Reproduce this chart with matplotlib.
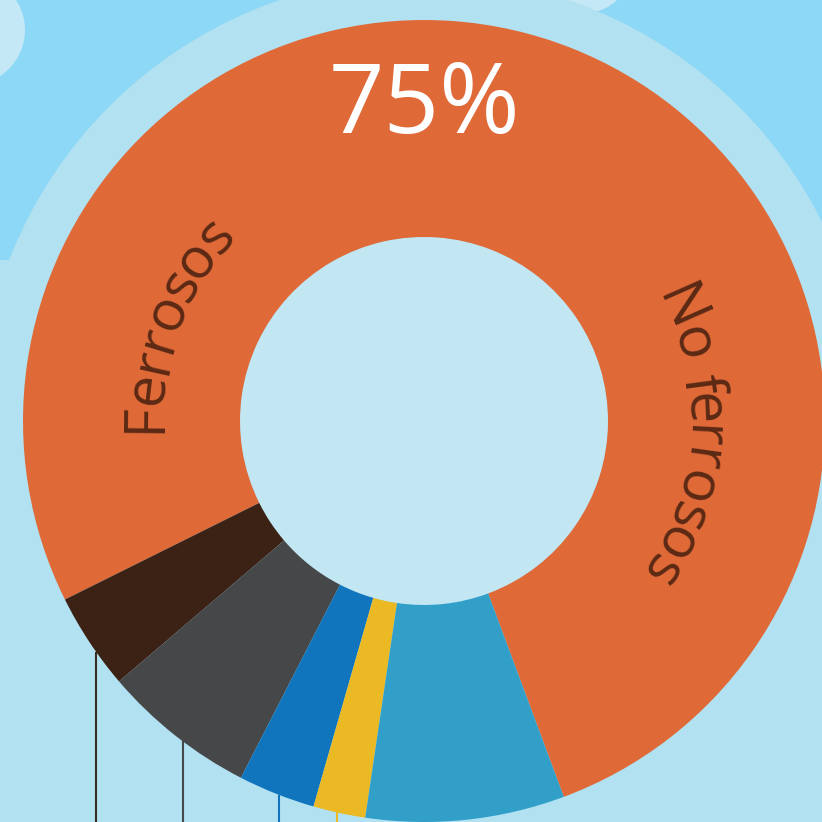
import numpy as np
import matplotlib
matplotlib.use('Agg')
import matplotlib.pyplot as plt
from matplotlib.patches import Circle, Rectangle
from matplotlib.font_manager import FontProperties, findfont, get_font

# datos del anillo (porcentajes estimados, en orden antihorario)
labels = ['Metales', 'Marrón', 'Gris', 'Azul', 'Amarillo', 'Celeste']
values = [76.6, 3.9, 6.2, 3.1, 2.1, 8.0]
colors = ['#DF6A38', '#3B2215', '#464749', '#1075BD', '#EBB924', '#329FC9']
line_colors = [None, '#3A2A22', '#48494B', '#1075BD', '#EBB924', None]
line_frac = [None, 0.62, 0.56, 0.53, 0.45, None]   # donde sale la linea dentro del segmento
big_label = '75%'
arc_labels = ['Ferrosos', 'No ferrosos']
arc_mid = [159.0, -3.5]

W = 822
cx, cy = 424, 401
R_out, R_in, R_halo = 401, 184, 445
start = 290.4

fig = plt.figure(figsize=(8.22, 8.22), dpi=100)
fig.patch.set_facecolor('#B2E1F1')
ax = fig.add_axes([0, 0, 1, 1])

# fondo: cielo y nubes
ax.add_patch(Rectangle((0, 562), W, 260, color='#8CD8F6', zorder=0.1, lw=0))
ax.add_patch(Circle((-30, 792), 55, color='#C4E8F5', zorder=0.15, lw=0))
ax.add_patch(Circle((18, 712), 38, color='#8CD8F6', zorder=0.16, lw=0))
ax.add_patch(Circle((585, 855), 46, color='#C4E8F5', zorder=0.15, lw=0))
ax.add_patch(Circle((cx, cy), R_halo, color='#B2E1F1', zorder=0.3, lw=0))
ax.add_patch(Circle((cx, cy), R_in, color='#C3E7F2', zorder=0.4, lw=0))

wedges, _ = ax.pie(values, colors=colors, startangle=start, counterclock=True,
                   radius=R_out, center=(cx, cy),
                   wedgeprops=dict(width=R_out - R_in, linewidth=0))

# lineas guia que bajan desde los segmentos
total = sum(values)
acc = start
for v, lc, fr in zip(values, line_colors, line_frac):
    a0 = acc
    acc += v / total * 360
    if lc is None:
        continue
    ang = np.radians(a0 + fr * (acc - a0))
    x = cx + R_out * np.cos(ang)
    y = cy + R_out * np.sin(ang)
    ax.plot([x, x], [y, -5], color=lc, lw=1.5, zorder=0.9, solid_capstyle='butt')

ax.text(cx, 822 - 107, big_label, color='white', fontsize=70, family='Open Sans',
        ha='center', va='center', zorder=3)


def arc_text(s, mid_deg, r_base, r_lay, size, color):
    fp = FontProperties(family='Open Sans', size=size)
    font = get_font(findfont(fp))
    font.set_size(size, 100)
    adv = []
    for ch in s:
        g = font.load_char(ord(ch))
        adv.append(g.linearHoriAdvance / 65536)
    tot = sum(adv)
    pos = 0
    for ch, a in zip(s, adv):
        c = pos + a / 2 - tot / 2
        pos += a
        if ch == ' ':
            continue
        ang = np.radians(mid_deg) - c / r_lay
        ax.text(cx + r_base * np.cos(ang), cy + r_base * np.sin(ang), ch,
                fontproperties=fp, color=color, ha='center', va='baseline',
                rotation=np.degrees(ang) - 90, rotation_mode='anchor', zorder=3)


for s, m in zip(arc_labels, arc_mid):
    arc_text(s, m, 263, 283, 41, '#5B2914')

ax.set_xlim(0, W)
ax.set_ylim(0, W)
ax.set_aspect('equal')
ax.axis('off')

fig.savefig('out.png', dpi=100, facecolor=fig.get_facecolor())
